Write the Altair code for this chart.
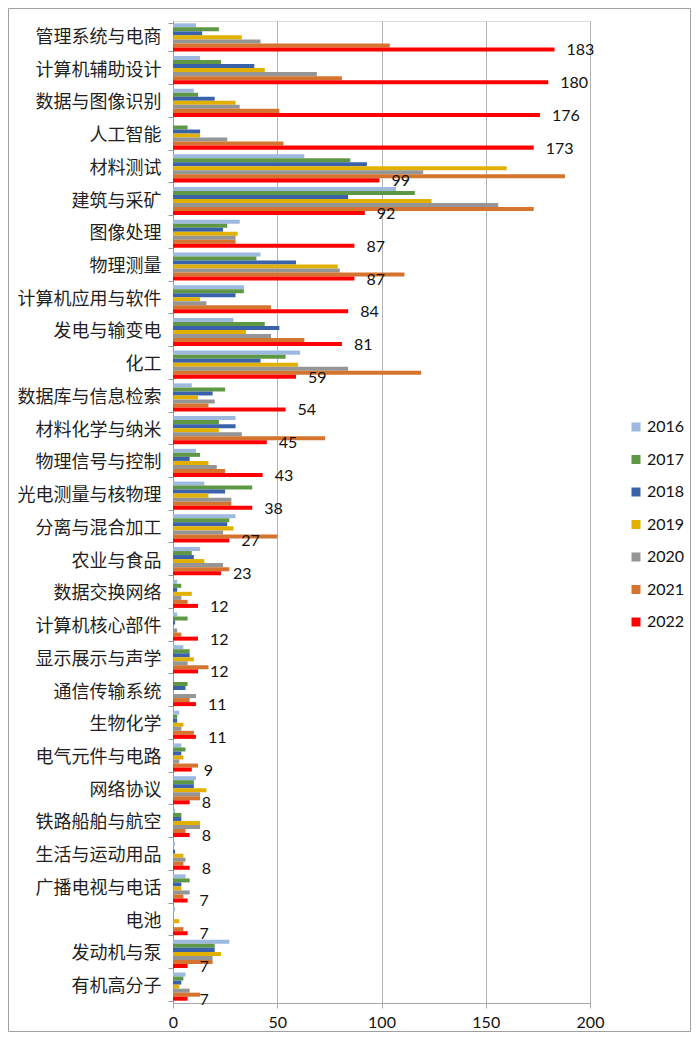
import altair as alt
import pandas as pd

categories = ["管理系统与电商", "计算机辅助设计", "数据与图像识别", "人工智能", "材料测试",
              "建筑与采矿", "图像处理", "物理测量", "计算机应用与软件", "发电与输变电",
              "化工", "数据库与信息检索", "材料化学与纳米", "物理信号与控制", "光电测量与核物理",
              "分离与混合加工", "农业与食品", "数据交换网络", "计算机核心部件", "显示展示与声学",
              "通信传输系统", "生物化学", "电气元件与电路", "网络协议", "铁路船舶与航空",
              "生活与运动用品", "广播电视与电话", "电池", "发动机与泵", "有机高分子"]
years = ["2016", "2017", "2018", "2019", "2020", "2021", "2022"]
v2016 = [11, 13, 10, 0, 63, 107, 32, 42, 34, 29, 61, 9, 30, 11, 15, 30, 13, 2, 2, 5, 0, 3, 4, 11, 1, 1, 6, 1, 27, 6]
v2017 = [22, 23, 12, 7, 85, 116, 26, 40, 34, 44, 54, 25, 22, 13, 38, 27, 9, 4, 7, 8, 7, 2, 6, 10, 4, 0, 8, 0, 20, 5]
v2018 = [14, 39, 20, 13, 93, 84, 24, 59, 30, 51, 42, 19, 30, 8, 25, 26, 10, 2, 1, 8, 6, 2, 4, 10, 4, 1, 4, 0, 20, 4]
v2019 = [33, 44, 30, 13, 160, 124, 31, 79, 13, 35, 60, 12, 22, 17, 17, 29, 15, 9, 0, 10, 0, 5, 5, 16, 13, 5, 4, 3, 23, 3]
v2020 = [42, 69, 32, 26, 120, 156, 30, 80, 16, 47, 84, 20, 33, 21, 28, 24, 24, 4, 2, 7, 11, 4, 3, 13, 13, 6, 8, 0, 19, 8]
v2021 = [104, 81, 51, 53, 188, 173, 30, 111, 47, 63, 119, 17, 73, 25, 28, 50, 27, 7, 4, 17, 8, 10, 12, 13, 6, 5, 5, 5, 19, 13]
v2022 = [183, 180, 176, 173, 99, 92, 87, 87, 84, 81, 59, 54, 45, 43, 38, 27, 23, 12, 12, 12, 11, 11, 9, 8, 8, 8, 7, 7, 7, 7]
colors = ["#9DB9E0", "#5F9845", "#3A62AA", "#E2B000", "#959595", "#D4742E", "#FF0000"]
x_ticks = [0, 50, 100, 150, 200]

series = [v2016, v2017, v2018, v2019, v2020, v2021, v2022]
rows = []
for i, c in enumerate(categories):
    for yr, vals in zip(years, series):
        rows.append({"cat": c, "year": yr, "value": vals[i]})
df = pd.DataFrame(rows)

W, H = 417, 982
PAD = {"left": 165, "top": 13, "right": 101, "bottom": 29}

y_enc = alt.Y("cat:N", sort=categories,
              scale=alt.Scale(paddingInner=0.14, paddingOuter=0.07),
              axis=alt.Axis(title=None, labelFont="Noto Sans CJK SC", labelFontSize=18,
                            labelColor="#1F1F1F", tickBand="extent", tickSize=5,
                            tickColor="#999999", domainColor="#999999", labelPadding=7,
                            grid=False))
yoff = alt.YOffset("year:N", scale=alt.Scale(domain=years, paddingInner=0, paddingOuter=0))
x_enc = alt.X("value:Q", scale=alt.Scale(domain=[0, 200], nice=False),
              axis=alt.Axis(title=None, values=x_ticks, labelFont="Lato", labelFontSize=16,
                            labelColor="#111111", tickSize=5, tickColor="#A6A6A6",
                            domainColor="#A6A6A6", gridColor="#B3B3B3", labelPadding=6,
                            labelFlush=False))

bars = alt.Chart(df).mark_bar().encode(
    x=x_enc,
    y=y_enc,
    yOffset=yoff,
    color=alt.Color("year:N", scale=alt.Scale(domain=years, range=colors),
                    legend=alt.Legend(title=None, orient="none", legendX=455, legendY=398,
                                      symbolType="square", symbolSize=81, symbolStrokeWidth=0,
                                      labelFont="Lato", labelFontSize=16, labelColor="#111111",
                                      rowPadding=16.5, labelOffset=3, padding=0)),
)

labels = alt.Chart(df[df["year"] == "2022"]).mark_text(
    align="left", baseline="middle", dx=12, dy=1, font="Lato", fontSize=16, color="#111111"
).encode(
    x="value:Q",
    y=alt.Y("cat:N", sort=categories),
    yOffset=alt.YOffset("year:N"),
    text="value:Q",
)

border = alt.Chart(pd.DataFrame({"a": [0]})).mark_rect(
    filled=False, stroke="#A0A0A0", strokeWidth=1
).encode(
    x=alt.value(-PAD["left"] + 0.5), x2=alt.value(W + PAD["right"] - 0.5),
    y=alt.value(-PAD["top"] + 0.5), y2=alt.value(H + PAD["bottom"] - 0.5),
)

chart = alt.layer(bars, labels, border).properties(
    width=W, height=H,
    autosize=alt.AutoSizeParams(type="none"),
    padding=PAD,
).configure_view(stroke=None).configure(background="white")

chart.save("out.html", embed_options={"renderer": "svg", "actions": False})
